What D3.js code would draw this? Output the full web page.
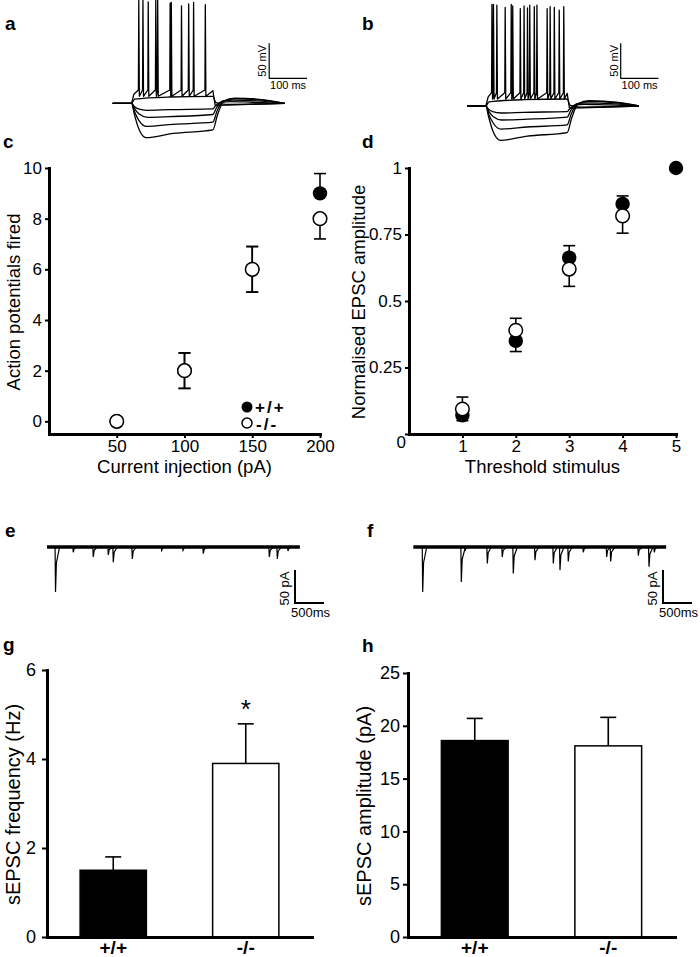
<!DOCTYPE html>
<html>
<head>
<meta charset="utf-8">
<script src="https://cdnjs.cloudflare.com/ajax/libs/d3/7.8.5/d3.min.js"></script>
<style>
  body { margin: 0; background: #fff; }
  svg { display: block; font-family: "Liberation Sans", Arial, sans-serif; }
</style>
</head>
<body>
<svg id="fig" width="700" height="957"></svg>
<script>
// a, b: current clamp sweeps (time in ms, membrane potential in mV)
const stepOn = 50, stepOff = 265, traceEnd = 455;
const rest = -65, thresh = -46, ahp = -55;
const spikesA = [69, 80, 94, 114, 119, 152, 155, 182, 201, 214, 245];
const peaksA = [82, 82, 80, 82, 82, 78, 79, 74, 77, 79, 76];
const spikesB = [66, 70, 79, 101, 117, 121, 141, 151, 160, 166, 178, 185, 212, 220, 231, 244, 256];
const peaksB = [80, 80, 79, 76, 80, 78, 74, 78, 75, 79, 77, 79, 74, 77, 76, 72, 77];
const hyperTraces = [
  [[0, -65], [50, -65], [57, -69.5], [68, -73], [90, -75], [150, -74], [265, -73], [273, -68], [287, -63.5], [312, -62.5], [370, -63.5], [455, -65]],
  [[0, -65], [50, -65], [57, -72], [69, -80], [92, -85], [150, -84], [265, -81], [275, -71], [290, -62], [317, -60.5], [380, -61.5], [455, -65]],
  [[0, -65], [50, -65], [57, -76], [70, -90], [90, -98], [160, -95], [265, -92], [276, -76], [292, -62], [321, -58.5], [390, -60], [455, -65]],
  [[0, -65], [50, -65], [57, -80], [68, -100], [88, -114], [160, -108], [265, -103], [277, -82], [294, -62], [323, -57.5], [400, -60], [455, -65]]
];
const subTrace = [[0, -65], [50, -65], [58, -59], [150, -56], [265, -55], [273, -64], [300, -66.5], [455, -65]];

// e, f: sEPSC sweeps (event time in ms, amplitude in pA)
const sweepMs = 4360;
const eventsE = [147, 453, 798, 1057, 1143, 1471, 1978, 2345, 2695, 3833, 3971, 4155];
const ampsE = [68, 8, 15, 12, 23, 18, 5, 5, 10, 15, 18, 6];
const eventsF = [162, 828, 891, 1276, 1534, 1724, 2098, 2414, 2529, 2672, 2931, 3334, 3403, 3879, 4064, 4155];
const ampsF = [68, 53, 6, 25, 15, 40, 20, 25, 35, 22, 8, 15, 22, 13, 30, 8];

// c: action potentials vs current injection
const currents = [50, 100, 150, 200];
const apWT = [0, 2, 6, 9];
const apWTsem = [0, 0.7, 0.9, 0.78];
const apKO = [0, 2, 6, 8];
const apKOsem = [0, 0.7, 0.9, 0.8];
const apTicks = [0, 2, 4, 6, 8, 10];

// d: normalised EPSC amplitude vs threshold stimulus
const stimuli = [1, 2, 3, 4, 5];
const epscWT = [0.07, 0.35, 0.663, 0.865, 1];
const epscWTsem = [0.02, 0.04, 0.045, 0.03, 0];
const epscKO = [0.094, 0.39, 0.62, 0.82];
const epscKOsem = [0.045, 0.045, 0.065, 0.065];
const epscTicks = [0, 0.25, 0.5, 0.75, 1];

// g, h: sEPSC frequency and amplitude
const genotypes = ["+/+", "-/-"];
const freqMean = [1.5, 3.9];
const freqSem = [0.3, 0.89];
const freqTicks = [0, 2, 4, 6];
const ampMean = [18.6, 18.1];
const ampSem = [2.1, 2.7];
const ampTicks = [0, 5, 10, 15, 20, 25];

const svg = d3.select("#fig");
const plain = d => String(d);

function panelLabel(txt, x, y) {
  svg.append("text").attr("x", x).attr("y", y)
    .attr("font-size", 19).attr("font-weight", "bold").text(txt);
}

function styleAxis(g, fs) {
  g.attr("font-family", null).attr("font-size", fs);
  g.select(".domain").attr("stroke-width", 3).attr("stroke-linecap", "square");
  g.selectAll(".tick line").attr("stroke-width", 2);
  g.selectAll(".tick text").attr("fill", "#000");
}

// ---- a, b ----
function drawClamp(x0, yRest, spikes, peaks, barT, barV) {
  const t = d3.scaleLinear().domain([0, traceEnd]).range([x0, x0 + traceEnd * 0.378]);
  const v = d3.scaleLinear().domain([rest, rest + 100]).range([yRest, yRest - 70]);
  const smooth = d3.line().x(d => t(d[0])).y(d => v(d[1])).curve(d3.curveMonotoneX);
  const sharp = d3.line().x(d => t(d[0])).y(d => v(d[1]));
  const g = svg.append("g").attr("fill", "none").attr("stroke", "#000")
    .attr("stroke-width", 1.3).attr("stroke-linejoin", "round");

  hyperTraces.forEach(tr => g.append("path").attr("d", smooth(tr)));
  g.append("path").attr("d", smooth(subTrace));

  const pts = [[0, rest], [stepOn, rest], [stepOn + 6, -52]];
  spikes.forEach((s, i) => pts.push([s - 1, thresh], [s, peaks[i]], [s + 1.5, ahp]));
  pts.push([stepOff, -47], [stepOff + 6, -68], [stepOff + 40, -67.5], [traceEnd, rest]);
  g.append("path").attr("d", sharp(pts));

  // scale bar: 50 mV, 100 ms
  g.append("path").attr("stroke-width", 1.2)
    .attr("d", sharp([[barT, barV + 50], [barT, barV], [barT + 100, barV]]));
  const bx = t(barT), by = v(barV);
  svg.append("text").attr("font-size", 11).attr("text-anchor", "middle")
    .attr("transform", `translate(${bx - 3},${(by + v(barV + 50)) / 2}) rotate(-90)`)
    .text("50 mV");
  svg.append("text").attr("font-size", 11).attr("text-anchor", "middle")
    .attr("x", (bx + t(barT + 100)) / 2).attr("y", by + 11).text("100 ms");
}

drawClamp(112.7, 103.3, spikesA, peaksA, 414, -29.3);
drawClamp(467, 106, spikesB, peaksB, 406.6, -25.4);

// ---- e, f ----
function drawSweep(x0, events, amps, barT) {
  const t = d3.scaleLinear().domain([0, sweepMs]).range([x0, x0 + sweepMs * 0.058]);
  const i = d3.scaleLinear().domain([0, -100]).range([547, 613]);
  const line = d3.line().x(d => t(d[0])).y(d => i(d[1]));
  const g = svg.append("g").attr("fill", "none").attr("stroke", "#000");
  g.append("path").attr("stroke-width", 3.6).attr("d", line([[0, 0], [sweepMs, 0]]));
  events.forEach((e, k) => {
    g.append("path").attr("stroke-width", 1.2)
      .attr("d", line([[e - 8, 0], [e, -amps[k]], [e + 15, -amps[k] * 0.35], [e + 70, 0]]));
  });
  // scale bar: 50 pA, 500 ms
  g.append("path").attr("stroke-width", 2)
    .attr("d", line([[barT, -35], [barT, -85], [barT + 500, -85]]));
  const bx = t(barT), by = i(-85);
  svg.append("text").attr("font-size", 13).attr("text-anchor", "middle")
    .attr("transform", `translate(${bx - 6},${(by + i(-35)) / 2 + 2}) rotate(-90)`)
    .text("50 pA");
  svg.append("text").attr("font-size", 13).attr("text-anchor", "middle")
    .attr("x", (bx + t(barT + 500)) / 2 + 1).attr("y", by + 14).text("500ms");
}

drawSweep(47, eventsE, ampsE, 4276);
drawSweep(413.3, eventsF, ampsF, 4305);

// ---- c, d ----
function errorBars(g, xVals, mean, sem, other, x, y) {
  xVals.forEach((xv, k) => {
    if (mean[k] === undefined || !sem[k]) return;
    const o = other[k] === undefined ? mean[k] : other[k];
    const ends = [];
    if (mean[k] >= o) ends.push(mean[k] + sem[k]);
    if (mean[k] <= o) ends.push(mean[k] - sem[k]);
    ends.forEach(e => {
      g.append("line").attr("x1", x(xv)).attr("x2", x(xv)).attr("y1", y(mean[k])).attr("y2", y(e));
      g.append("line").attr("x1", x(xv) - 6).attr("x2", x(xv) + 6).attr("y1", y(e)).attr("y2", y(e));
    });
  });
}

function scatterPanel(opt) {
  const { x, y, xTicks, yTicks, wt, wtSem, ko, koSem, xLabel, yLabel, yLabelX } = opt;
  const r0 = x.range()[0], r1 = x.range()[1];
  const yb = y.range()[0];
  const ya = svg.append("g").attr("transform", `translate(${r0},0)`)
    .call(d3.axisLeft(y).tickValues(yTicks).tickFormat(plain)
      .tickSize(4).tickSizeOuter(0).tickPadding(3));
  styleAxis(ya, 17);
  const xa = svg.append("g").attr("transform", `translate(0,${yb})`)
    .call(d3.axisBottom(x).tickValues(xTicks).tickFormat(plain)
      .tickSize(4).tickSizeOuter(0).tickPadding(2));
  styleAxis(xa, 17);

  const eg = svg.append("g").attr("stroke", "#000").attr("stroke-width", 1.6);
  errorBars(eg, xTicks, wt, wtSem, ko, x, y);
  errorBars(eg, xTicks, ko, koSem, wt, x, y);

  svg.append("g").selectAll("circle").data(wt).join("circle")
    .attr("cx", (d, k) => x(xTicks[k])).attr("cy", d => y(d)).attr("r", 7.2)
    .attr("fill", "#000");
  svg.append("g").selectAll("circle").data(ko).join("circle")
    .attr("cx", (d, k) => x(xTicks[k])).attr("cy", d => y(d)).attr("r", 6.8)
    .attr("fill", "#fff").attr("stroke", "#000").attr("stroke-width", 1.5);

  svg.append("text").attr("x", (r0 + r1) / 2).attr("y", 473).attr("text-anchor", "middle")
    .attr("font-size", 18.5).text(xLabel);
  svg.append("text").attr("text-anchor", "middle").attr("font-size", 18.5)
    .attr("transform", `translate(${yLabelX},${(y.range()[1] + yb) / 2 + 1}) rotate(-90)`)
    .text(yLabel);
  return ya;
}

scatterPanel({
  x: d3.scaleLinear().domain([0, 200]).range([49, 320]),
  y: d3.scaleLinear().domain([-0.5, 10]).range([434, 168]),
  xTicks: currents, yTicks: apTicks,
  wt: apWT, wtSem: apWTsem, ko: apKO, koSem: apKOsem,
  xLabel: "Current injection (pA)", yLabel: "Action potentials fired", yLabelX: 20
});

// legend for c
svg.append("circle").attr("cx", 247).attr("cy", 407).attr("r", 5.5).attr("fill", "#000");
svg.append("circle").attr("cx", 247).attr("cy", 423).attr("r", 5).attr("fill", "#fff")
  .attr("stroke", "#000").attr("stroke-width", 1.5);
svg.append("text").attr("x", 255).attr("y", 412.5).attr("font-size", 17).attr("font-weight", "bold")
  .attr("letter-spacing", 2).text(genotypes[0]);
svg.append("text").attr("x", 256).attr("y", 430).attr("font-size", 17).attr("font-weight", "bold")
  .attr("letter-spacing", 2).text(genotypes[1]);

const dAxis = scatterPanel({
  x: d3.scaleLinear().domain([0, 5]).range([409, 676]),
  y: d3.scaleLinear().domain([0, 1]).range([434, 168]),
  xTicks: stimuli, yTicks: epscTicks,
  wt: epscWT, wtSem: epscWTsem, ko: epscKO, koSem: epscKOsem,
  xLabel: "Threshold stimulus", yLabel: "Normalised EPSC amplitude", yLabelX: 365
});
dAxis.selectAll(".tick text").filter(d => d === 0).attr("dy", "0.82em").attr("x", -3);

// ---- g, h ----
function barPanel(opt) {
  const { r0, r1, y, yTicks, mean, sem, yLabel, yLabelX, star, pad } = opt;
  const x = d3.scaleBand().domain(genotypes).range([r0, r1]).paddingInner(0.5).paddingOuter(0.25);
  const yb = y.range()[0];

  svg.append("g").selectAll("rect").data(mean).join("rect")
    .attr("x", (d, k) => x(genotypes[k])).attr("width", x.bandwidth())
    .attr("y", d => y(d)).attr("height", d => yb - y(d))
    .attr("fill", (d, k) => k === 0 ? "#000" : "#fff")
    .attr("stroke", "#000").attr("stroke-width", 1.5);

  const eg = svg.append("g").attr("stroke", "#000").attr("stroke-width", 1.6);
  mean.forEach((m, k) => {
    const cx = x(genotypes[k]) + x.bandwidth() / 2;
    eg.append("line").attr("x1", cx).attr("x2", cx).attr("y1", y(m)).attr("y2", y(m + sem[k]));
    eg.append("line").attr("x1", cx - 8).attr("x2", cx + 8).attr("y1", y(m + sem[k])).attr("y2", y(m + sem[k]));
  });

  const ya = svg.append("g").attr("transform", `translate(${r0},0)`)
    .call(d3.axisLeft(y).tickValues(yTicks).tickFormat(plain)
      .tickSize(5).tickSizeOuter(0).tickPadding(pad));
  styleAxis(ya, 18);

  const xa = svg.append("g").attr("transform", `translate(0,${yb})`)
    .call(d3.axisBottom(x).tickSize(0).tickSizeOuter(0).tickPadding(3));
  styleAxis(xa, 19);
  xa.selectAll(".tick text").attr("font-weight", "bold");

  svg.append("text").attr("text-anchor", "middle").attr("font-size", 20)
    .attr("transform", `translate(${yLabelX},${(y.range()[1] + yb) / 2 + 1}) rotate(-90)`)
    .text(yLabel);

  if (star !== undefined) {
    const cx = x(genotypes[star]) + x.bandwidth() / 2;
    svg.append("text").attr("x", cx).attr("y", y(mean[star] + sem[star]) - 6)
      .attr("text-anchor", "middle").attr("font-size", 26).text("*");
  }
}

barPanel({
  r0: 47, r1: 312, y: d3.scaleLinear().domain([0, 6]).range([937, 670]),
  yTicks: freqTicks, mean: freqMean, sem: freqSem, pad: 6,
  yLabel: "sEPSC frequency (Hz)", yLabelX: 20, star: 1
});

barPanel({
  r0: 408, r1: 675, y: d3.scaleLinear().domain([0, 25]).range([937, 673]),
  yTicks: ampTicks, mean: ampMean, sem: ampSem, pad: 3,
  yLabel: "sEPSC amplitude (pA)", yLabelX: 371
});

panelLabel("a", 5, 30);
panelLabel("b", 362, 30);
panelLabel("c", 3, 148);
panelLabel("d", 362, 148);
panelLabel("e", 5, 537);
panelLabel("f", 367, 537);
panelLabel("g", 3, 651);
panelLabel("h", 362, 652);
</script>
</body>
</html>
